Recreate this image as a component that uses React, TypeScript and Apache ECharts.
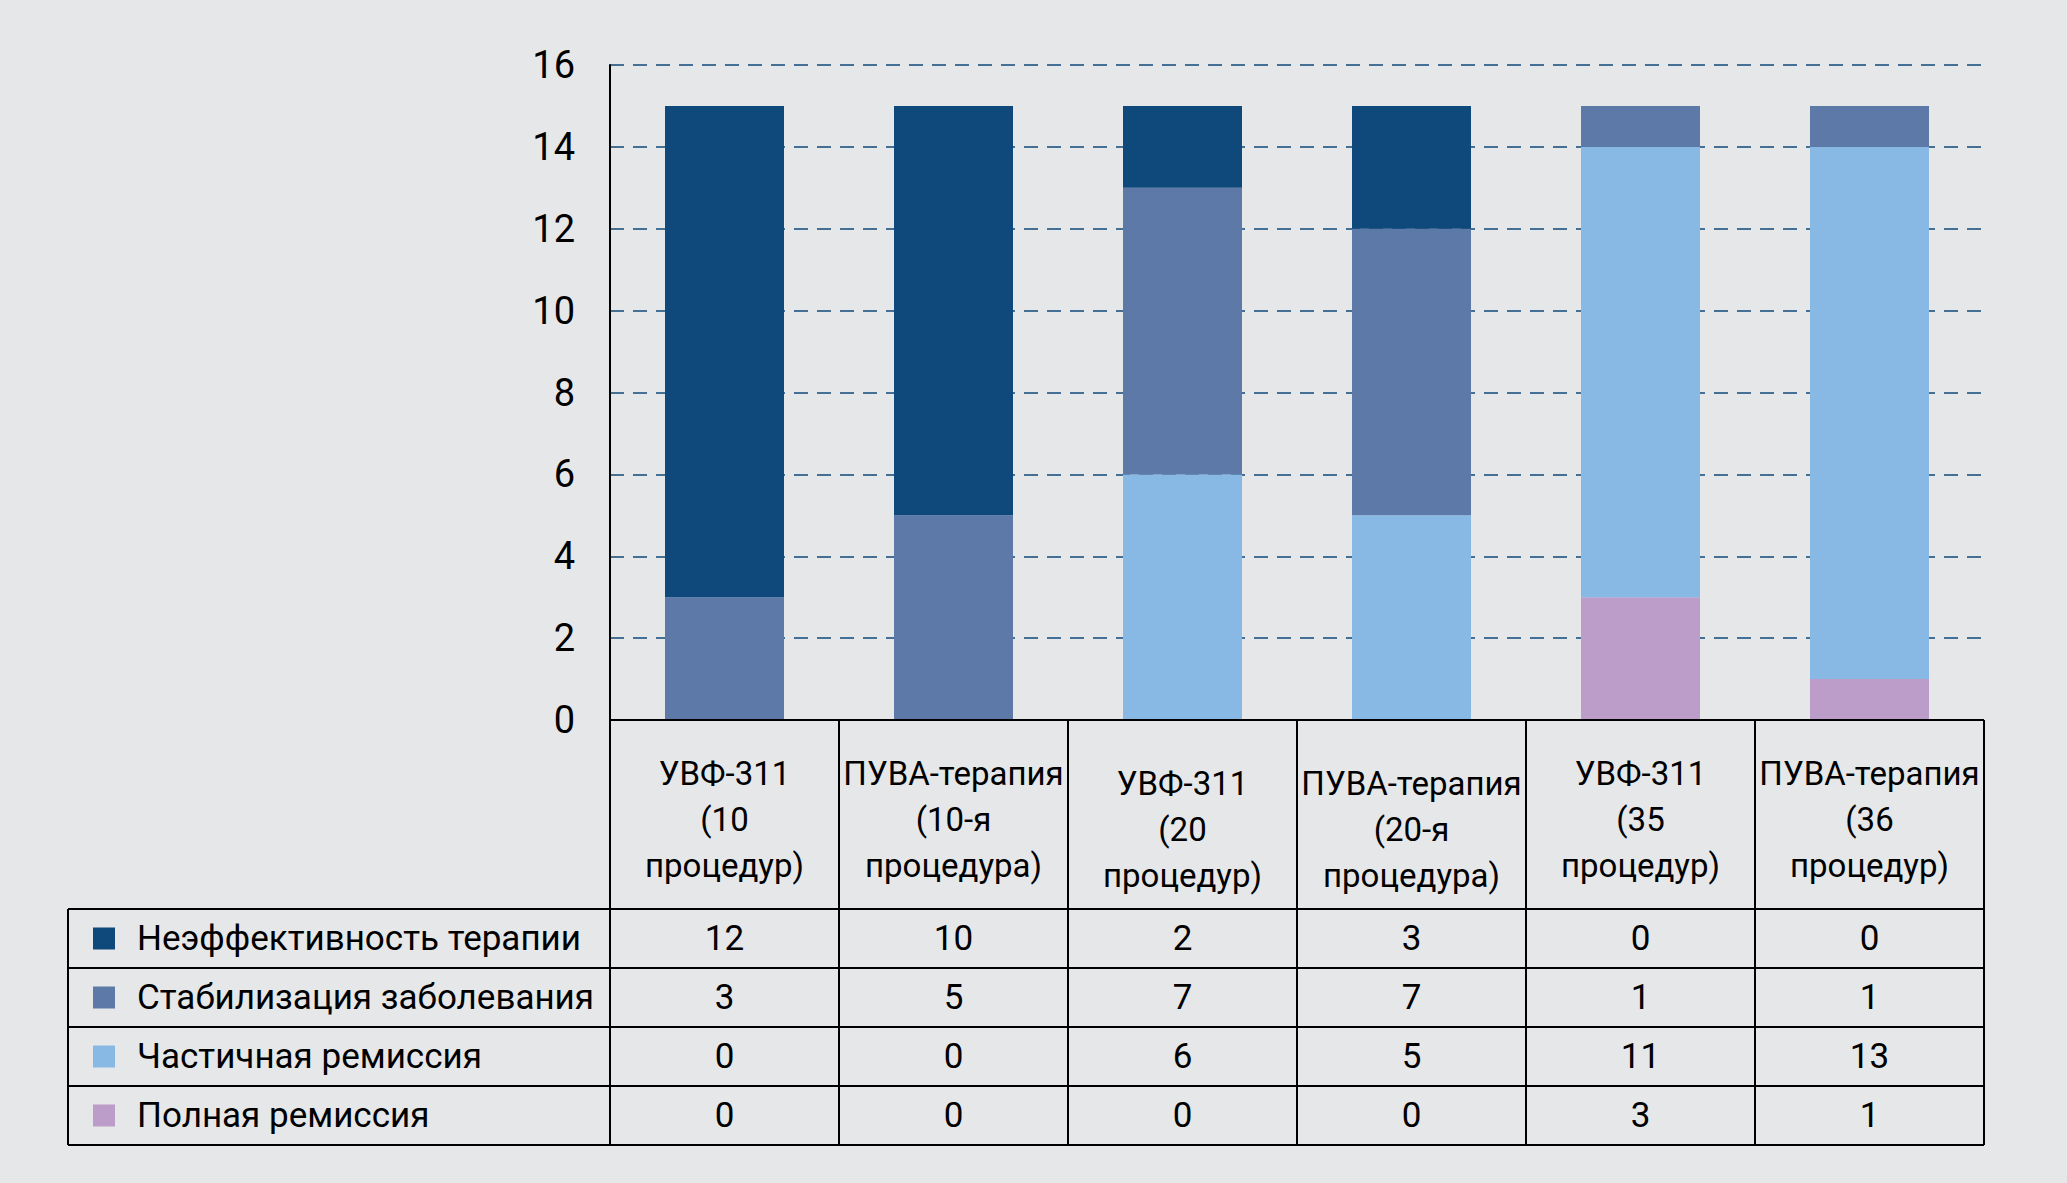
import React, { useEffect, useRef } from "react";
import * as echarts from "echarts";

const categories = [
  "УВФ-311\n(10\nпроцедур)",
  "ПУВА-терапия\n(10-я\nпроцедура)",
  "УВФ-311\n(20\nпроцедур)",
  "ПУВА-терапия\n(20-я\nпроцедура)",
  "УВФ-311\n(35\nпроцедур)",
  "ПУВА-терапия\n(36\nпроцедур)",
];
const seriesNames = [
  "Неэффективность терапии",
  "Стабилизация заболевания",
  "Частичная ремиссия",
  "Полная ремиссия",
];
const ineffective = [12, 10, 2, 3, 0, 0];
const stabilization = [3, 5, 7, 7, 1, 1];
const partialRemission = [0, 0, 6, 5, 11, 13];
const completeRemission = [0, 0, 0, 0, 3, 1];
const seriesValues = [ineffective, stabilization, partialRemission, completeRemission];
const seriesColors = ["#0f497b", "#5d79a8", "#87b9e4", "#bc9dca"];
const yMin = 0;
const yMax = 16;
const yInterval = 2;

const FONT = 'Roboto, "Liberation Sans", sans-serif';

// layout (px)
const W = 2067;
const H = 1183;
const gridLeft = 610;
const gridRight = 1984;
const gridTop = 65;
const axisY = 720;
const headerBottom = 909;
const rowH = 59;
const tableLeft = 68;

export default function App() {
  const ref = useRef<HTMLDivElement>(null);
  useEffect(() => {
    if (!ref.current) return;
    const chart = echarts.init(ref.current, null, { renderer: "svg" });
    const colW = (gridRight - gridLeft) / categories.length;
    const tableBottom = headerBottom + rowH * seriesNames.length;
    const lineStyle = { stroke: "#000", lineWidth: 2 };
    const graphics: any[] = [];
    graphics.push({ type: "line", shape: { x1: gridLeft, y1: axisY, x2: gridRight, y2: axisY }, style: lineStyle, z: 100 });
    for (let r = 0; r <= seriesNames.length; r++) {
      const y = headerBottom + r * rowH;
      graphics.push({ type: "line", shape: { x1: tableLeft, y1: y, x2: gridRight, y2: y }, style: lineStyle, z: 100 });
    }
    for (let c = 0; c <= categories.length; c++) {
      const x = gridLeft + c * colW;
      graphics.push({ type: "line", shape: { x1: x, y1: axisY, x2: x, y2: tableBottom }, style: lineStyle, z: 100 });
    }
    graphics.push({ type: "line", shape: { x1: tableLeft, y1: headerBottom, x2: tableLeft, y2: tableBottom }, style: lineStyle, z: 100 });
    seriesNames.forEach((name, r) => {
      const cy = headerBottom + (r + 0.5) * rowH;
      graphics.push({
        type: "rect",
        shape: { x: 93, y: cy - 11, width: 22, height: 22 },
        style: { fill: seriesColors[r] },
        z: 100,
      });
      graphics.push({
        type: "text",
        x: 137,
        y: cy,
        style: { text: name, fill: "#000", fontSize: 35, fontFamily: FONT, textAlign: "left", textVerticalAlign: "middle" },
        z: 100,
      });
      seriesValues[r].forEach((v, c) => {
        graphics.push({
          type: "text",
          x: gridLeft + (c + 0.5) * colW,
          y: cy,
          style: { text: String(v), fill: "#000", fontSize: 35, fontFamily: FONT, textAlign: "center", textVerticalAlign: "middle" },
          z: 100,
        });
      });
    });

    const order = [3, 2, 1, 0];
    chart.setOption({
      animation: false,
      backgroundColor: "#e6e7e9",
      grid: { left: gridLeft, right: W - gridRight, top: gridTop, bottom: H - axisY, containLabel: false },
      xAxis: {
        type: "category",
        data: categories.map((c, i) =>
          i === 2 || i === 3 ? { value: c, textStyle: { padding: [10, 0, 0, 0] } } : c
        ),
        axisLine: { show: false },
        axisTick: { show: false },
        axisLabel: {
          interval: 0,
          margin: 30,
          fontSize: 33,
          lineHeight: 46,
          color: "#000",
          fontFamily: FONT,
        },
      },
      yAxis: {
        type: "value",
        min: yMin,
        max: yMax,
        interval: yInterval,
        axisLine: { show: true, lineStyle: { color: "#000", width: 2 } },
        axisTick: { show: false },
        axisLabel: { fontSize: 38, color: "#000", margin: 35, fontFamily: FONT },
        splitLine: { show: true, lineStyle: { color: "#0f497b", width: 1.5, type: [14, 9] } },
      },
      series: order.map((idx) => ({
        name: seriesNames[idx],
        type: "bar",
        stack: "total",
        barWidth: 119,
        data: seriesValues[idx],
        itemStyle: { color: seriesColors[idx] },
      })),
      graphic: graphics,
    });
    return () => chart.dispose();
  }, []);
  return (
    <div
      ref={ref}
      style={{ position: "fixed", left: 0, top: 0, width: W, height: H }}
    />
  );
}
